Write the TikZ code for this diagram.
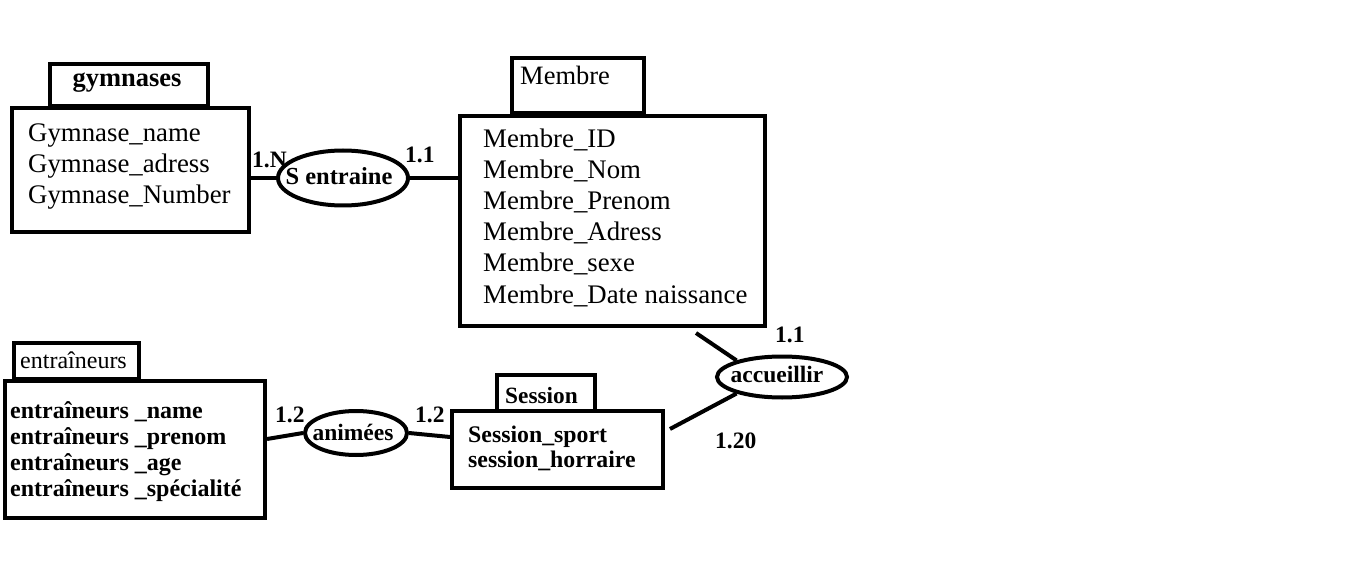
\documentclass[tikz,border=0pt]{standalone}
\usepackage{fontspec}
\setmainfont{Liberation Serif}
\usetikzlibrary{shapes.geometric}
\begin{document}
\begin{tikzpicture}[x=1pt,y=-1pt,
  box/.style={draw,line width=4pt,rectangle,inner sep=0pt,anchor=north west},
  rel/.style={draw,line width=4pt,ellipse,inner sep=0pt},
  reltext/.style={inner sep=0pt,font=\fontsize{23.5}{26}\selectfont\bfseries},
  conn/.style={line width=4pt},
  attr/.style={anchor=base west,inner sep=0pt,font=\fontsize{26.8}{31}\selectfont},
  battr/.style={anchor=base west,inner sep=0pt,font=\fontsize{24}{26}\selectfont\bfseries},
  card/.style={anchor=base west,inner sep=0pt,font=\fontsize{23.5}{26}\selectfont\bfseries}]
\useasboundingbox (0,0) rectangle (1359,561);
% gymnases
\node[box,minimum width=158,minimum height=42] (gymt) at (48,62) {};
\node[box,minimum width=237,minimum height=124] (gym) at (10,106) {};
\node[anchor=base,inner sep=0pt,font=\fontsize{26.5}{30}\selectfont\bfseries] (gymlbl) at (127,87) {gymnases};
\foreach \t [count=\i] in {Gymnase\_name,Gymnase\_adress,Gymnase\_Number}
  \node[attr] (g\i) at (28,142+31*\i-31) {\t};
% Membre
\node[box,minimum width=132,minimum height=55] (memt) at (510,56) {};
\node[box,minimum width=305,minimum height=210] (mem) at (458,114) {};
\node[attr,font=\fontsize{26.5}{30}\selectfont] (memlbl) at (520,85) {Membre};
\foreach \t [count=\i] in {Membre\_ID,Membre\_Nom,Membre\_Prenom,Membre\_Adress,Membre\_sexe,Membre\_Date naissance}
  \node[attr] (m\i) at (483,148+31*\i-31) {\t};
% entraineurs
\node[box,minimum width=125,minimum height=36] (entt) at (12,341) {};
\node[box,minimum width=260,minimum height=137] (ent) at (3,379) {};
\node[attr,font=\fontsize{24}{28}\selectfont] (entlbl) at (20,368) {entraîneurs};
\foreach \t [count=\i] in {entraîneurs \_name,entraîneurs \_prenom,entraîneurs \_age,entraîneurs \_spécialité}
  \node[battr] (e\i) at (10,418+26*\i-26) {\t};
% Session
\node[box,minimum width=98,minimum height=36] (sest) at (495,373) {};
\node[box,minimum width=211,minimum height=77] (ses) at (450,409) {};
\node[battr,font=\fontsize{23.3}{26}\selectfont\bfseries] (seslbl) at (505,403) {Session};
\node[battr,font=\fontsize{23.8}{26}\selectfont\bfseries] (s1) at (468,442) {Session\_sport};
\node[battr,font=\fontsize{23.8}{26}\selectfont\bfseries] (s2) at (468,467) {session\_horraire};
% relations
\node[rel,minimum width=130,minimum height=55] (sent) at (343,178) {};
\node[reltext,anchor=base,font=\fontsize{24.5}{26}\selectfont\bfseries] (sentlbl) at (339,185) {S entraine};
\node[rel,minimum width=102,minimum height=44] (anim) at (356,433) {};
\node[reltext,anchor=base] (animlbl) at (353,440) {animées};
\node[rel,minimum width=130,minimum height=41] (acc) at (782,377) {};
\node[reltext,anchor=base] (acclbl) at (777,382) {accueillir};
% connectors
\draw[conn] (sent.west -| gym.east) -- (sent.west);
\draw[conn] (sent.east) -- (sent.east -| mem.west);
\draw[conn] ([yshift=10.5pt]ent.east) -- (anim.west);
\draw[conn] (anim.east) -- ([yshift=12.5pt]ses.west);
\coordinate (a1) at (696,333);
\coordinate (a2) at (670,429);
\draw[conn] (a1) -- (acc.160);
\draw[conn] (a2) -- (acc.200);
% cardinalities
\node[card] (c1) at (252,168) {1.N};
\node[card] (c2) at (405,163) {1.1};
\node[card] (c3) at (275,422) {1.2};
\node[card] (c4) at (415,422) {1.2};
\node[card] (c5) at (775,342) {1.1};
\node[card] (c6) at (715,448) {1.20};
\end{tikzpicture}
\end{document}
